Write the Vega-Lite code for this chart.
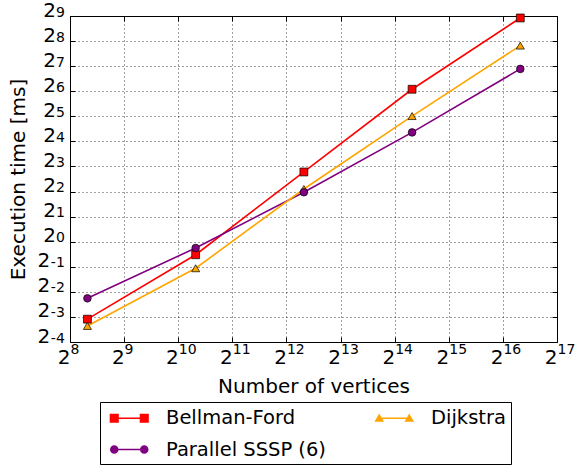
{
  "$schema": "https://vega.github.io/schema/vega-lite/v6.json",
  "width": 487,
  "height": 326,
  "autosize": "none",
  "padding": {"left": 70, "top": 16, "right": 18, "bottom": 126},
  "background": "white",
  "config": {
    "font": "DejaVu Sans",
    "view": {"stroke": "black", "strokeWidth": 1}
  },
  "data": {
    "values": [
      {"series": "Bellman-Ford", "vertices": 320, "time": 0.1175},
      {"series": "Bellman-Ford", "vertices": 1280, "time": 0.697},
      {"series": "Bellman-Ford", "vertices": 5120, "time": 6.87},
      {"series": "Bellman-Ford", "vertices": 20480, "time": 67.6},
      {"series": "Bellman-Ford", "vertices": 81920, "time": 485},
      {"series": "Parallel SSSP (6)", "vertices": 320, "time": 0.209},
      {"series": "Parallel SSSP (6)", "vertices": 1280, "time": 0.841},
      {"series": "Parallel SSSP (6)", "vertices": 5120, "time": 3.92},
      {"series": "Parallel SSSP (6)", "vertices": 20480, "time": 20.5},
      {"series": "Parallel SSSP (6)", "vertices": 81920, "time": 118.6},
      {"series": "Dijkstra", "vertices": 320, "time": 0.0974},
      {"series": "Dijkstra", "vertices": 1280, "time": 0.48},
      {"series": "Dijkstra", "vertices": 5120, "time": 4.29},
      {"series": "Dijkstra", "vertices": 20480, "time": 32.2},
      {"series": "Dijkstra", "vertices": 81920, "time": 226}
    ]
  },
  "layer": [
    {
      "mark": {"type": "line", "strokeWidth": 1.6},
      "encoding": {
        "x": {
          "field": "vertices", "type": "quantitative",
          "scale": {"type": "log", "base": 2, "domain": [256, 131072], "nice": false},
          "axis": {
            "orient": "bottom",
            "values": [256, 512, 1024, 2048, 4096, 8192, 16384, 32768, 65536, 131072],
            "labelExpr": "'2'",
            "labelFontSize": 20, "labelColor": "black",
            "labelAlign": "right", "labelBaseline": "alphabetic",
            "labelPadding": 26.6, "labelFlush": false, "labelOverlap": false,
            "ticks": true, "tickSize": -5, "tickColor": "black", "tickWidth": 1,
            "domain": false,
            "grid": true, "gridColor": "black", "gridDash": [1, 3], "gridOpacity": 0.75, "gridWidth": 1,
            "title": "Number of vertices", "titleFontSize": 20, "titleFontWeight": "normal", "titleColor": "black", "titlePadding": 9,
            "encode": {"labels": {"update": {"dx": {"signal": "datum.value >= 1024 ? -1.8 : 4.5"}}}}
          }
        },
        "y": {
          "field": "time", "type": "quantitative",
          "scale": {"type": "log", "base": 2, "domain": [0.0625, 512], "nice": false},
          "axis": {
            "orient": "left",
            "values": [1, 2, 4, 8, 16, 32, 64, 128, 256, 512],
            "labelExpr": "'2'",
            "labelFontSize": 20, "labelColor": "black",
            "labelAlign": "right", "labelBaseline": "alphabetic",
            "labelPadding": 19.6, "labelFlush": false, "labelOverlap": false,
            "ticks": true, "tickSize": -5, "tickColor": "black", "tickWidth": 1,
            "domain": false,
            "grid": true, "gridColor": "black", "gridDash": [1, 3], "gridOpacity": 0.75, "gridWidth": 1,
            "title": "Execution time [ms]", "titleFontSize": 20, "titleFontWeight": "normal", "titleColor": "black", "titlePadding": 14,
            "encode": {"labels": {"update": {"dy": {"value": 6.8}}}}
          }
        },
        "color": {
          "field": "series", "type": "nominal",
          "scale": {"domain": ["Bellman-Ford", "Dijkstra", "Parallel SSSP (6)"], "range": ["#ff0000", "#ffa500", "#800080"]},
          "legend": {
            "orient": "none", "legendX": 30, "legendY": 386,
            "columns": 2, "direction": "horizontal", "title": null,
            "strokeColor": "black", "fillColor": "white", "padding": 5,
            "columnPadding": 44, "rowPadding": 10.5,
            "labelFontSize": 19.5, "labelColor": "black", "labelLimit": 400, "labelOffset": 39,
            "symbolSize": 400, "symbolStrokeWidth": 1.5,
            "labelExpr": "datum.label == 'Dijkstra' ? 'Dijkstra\u00a0\u00a0\u00a0\u00a0' : datum.label",
            "encode": {
              "symbols": {
                "update": {
                  "shape": {"signal": "datum.value == 'Bellman-Ford' ? 'M-0.175,0L2.825,0M-0.555,-0.38L0.205,-0.38L0.205,0.38L-0.555,0.38ZM2.445,-0.38L3.205,-0.38L3.205,0.38L2.445,0.38Z' : datum.value == 'Dijkstra' ? 'M-0.175,0L2.825,0M-0.175,-0.32L0.175,0.27L-0.525,0.27ZM2.825,-0.32L3.175,0.27L2.475,0.27Z' : 'M-0.175,0L2.825,0M-0.525,0A0.35,0.35,0,1,0,0.175,0A0.35,0.35,0,1,0,-0.525,0ZM2.475,0A0.35,0.35,0,1,0,3.175,0A0.35,0.35,0,1,0,2.475,0Z'"},
                  "fill": {"signal": "datum.value == 'Bellman-Ford' ? '#ff0000' : datum.value == 'Dijkstra' ? '#ffa500' : '#800080'"},
                  "stroke": {"signal": "datum.value == 'Bellman-Ford' ? '#ff0000' : datum.value == 'Dijkstra' ? '#ffa500' : '#800080'"},
                  "strokeWidth": {"value": 1.5},
                  "opacity": {"value": 1}
                }
              }
            }
          }
        }
      }
    },
    {
      "transform": [{"filter": "datum.series == 'Bellman-Ford'"}],
      "mark": {"type": "point", "shape": "square", "filled": true, "fill": "#ff0000", "opacity": 1, "stroke": "black", "strokeWidth": 0.7, "size": 62},
      "encoding": {
        "x": {
          "field": "vertices", "type": "quantitative",
          "axis": {
            "orient": "bottom",
            "values": [256, 512, 1024, 2048, 4096, 8192, 16384, 32768, 65536, 131072],
            "labelExpr": "'' + round(log(datum.value) / LN2)",
            "labelFontSize": 14, "labelColor": "black",
            "labelAlign": "left", "labelBaseline": "alphabetic",
            "labelPadding": 11.6, "labelFlush": false, "labelOverlap": false,
            "ticks": false, "domain": false, "grid": false, "title": null,
            "encode": {"labels": {"update": {"dx": {"signal": "datum.value >= 1024 ? -1.8 : 4.5"}}}}
          }
        },
        "y": {
          "field": "time", "type": "quantitative",
          "axis": {
            "orient": "left",
            "values": [0.0625, 0.125, 0.25, 0.5, 1, 2, 4, 8, 16, 32, 64, 128, 256, 512],
            "labelExpr": "'' + round(log(datum.value) / LN2)",
            "labelFontSize": 14, "labelColor": "black",
            "labelAlign": "right", "labelBaseline": "alphabetic",
            "labelPadding": 5.7, "labelFlush": false, "labelOverlap": false,
            "ticks": false, "domain": false, "grid": false, "title": null,
            "encode": {"labels": {"update": {"dy": {"value": -3.3}}}}
          }
        }
      }
    },
    {
      "transform": [{"filter": "datum.series == 'Dijkstra'"}],
      "mark": {"type": "point", "shape": "triangle-up", "filled": true, "fill": "#ffa500", "opacity": 1, "stroke": "black", "strokeWidth": 0.7, "size": 65},
      "encoding": {
        "x": {
          "field": "vertices", "type": "quantitative",
          "axis": {
            "orient": "top",
            "values": [256, 512, 1024, 2048, 4096, 8192, 16384, 32768, 65536, 131072],
            "labels": false, "ticks": true, "tickSize": -5, "tickColor": "black", "tickWidth": 1,
            "domain": false, "grid": false, "title": null
          }
        },
        "y": {
          "field": "time", "type": "quantitative",
          "axis": {
            "orient": "right",
            "values": [0.0625, 0.125, 0.25, 0.5, 1, 2, 4, 8, 16, 32, 64, 128, 256, 512],
            "labels": false, "ticks": true, "tickSize": -5, "tickColor": "black", "tickWidth": 1,
            "domain": false, "grid": false, "title": null
          }
        }
      }
    },
    {
      "transform": [{"filter": "datum.series == 'Parallel SSSP (6)'"}],
      "mark": {"type": "point", "shape": "circle", "filled": true, "fill": "#800080", "opacity": 1, "stroke": "black", "strokeWidth": 0.7, "size": 58},
      "encoding": {
        "x": {"field": "vertices", "type": "quantitative", "axis": null},
        "y": {
          "field": "time", "type": "quantitative",
          "axis": {
            "orient": "left",
            "values": [0.0625, 0.125, 0.25, 0.5],
            "labelExpr": "'2'",
            "labelFontSize": 20, "labelColor": "black",
            "labelAlign": "right", "labelBaseline": "alphabetic",
            "labelPadding": 25.3, "labelFlush": false, "labelOverlap": false,
            "ticks": true, "tickSize": -5, "tickColor": "black", "tickWidth": 1,
            "domain": false,
            "grid": true, "gridColor": "black", "gridDash": [1, 3], "gridOpacity": 0.75, "gridWidth": 1,
            "title": null,
            "encode": {"labels": {"update": {"dy": {"value": 6.8}}}}
          }
        }
      }
    }
  ],
  "resolve": {"axis": {"x": "independent", "y": "independent"}}
}
